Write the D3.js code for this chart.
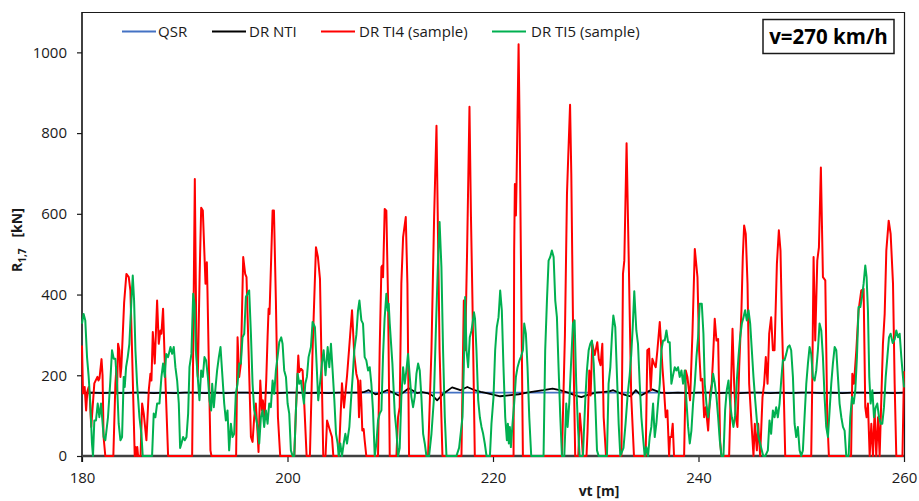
<!DOCTYPE html>
<html><head><meta charset="utf-8">
<script src="https://cdn.jsdelivr.net/npm/d3@7"></script>
<style>
html,body{margin:0;padding:0;background:#fff;}
svg{display:block;font-family:"Open Sans",sans-serif;}
</style></head>
<body><svg id="c" width="919" height="501"></svg>
<script>
// ---- data ----
const seriesNames = ["QSR", "DR NTI", "DR TI4 (sample)", "DR TI5 (sample)"];
const xTicks = [180, 200, 220, 240, 260];
const yTicks = [0, 200, 400, 600, 800, 1000];

const qsrX = [180, 260];
const qsrY = [157, 157];

const ntiX = [180,181,182,183,184,185,186,187,188,189,190,191,192,193,194,195,196,197,198,199,200,201,202,203,204,205,206,207,
  207.4,207.9,208.55,209.0,209.69,210.3,210.82,211.3,211.8,212.6,213.1,213.59,214.1,214.56,215.2,216.02,216.83,217.5,218.1,218.8,219.5,220.7,221.5,222.5,223.3,224.1,224.9,225.8,226.5,227.3,228.0,228.6,229.3,230.0,230.6,231.3,231.7,232.4,233.0,233.4,233.9,234.4,234.9,235.5,236.3,
  237,238,239,240,241,242,243,244,245,246,247,248,249,250,251,252,253,254,255,256,257,258,259,260];
const ntiY = [156,157,156,157,156,157,157,156,157,156,157,157,156,157,156,157,157,156,157,156,157,157,156,157,156,157,157,157,
  158,163,153,155,163,157,150,158,168,156,158,156,150,138,155,170,163,171,164,159,155,148,150,153,157,160,163,167,163,157,150,146,152,157,158,160,163,155,150,148,163,150,157,165,157,
  156,157,156,157,157,156,157,156,157,157,156,157,156,157,157,156,157,156,157,157,156,157,156,157];

const ti4X = [180.0,180.1,180.26,180.4,180.52,180.65,180.75,180.9,181.2,181.5,181.6,181.7,181.9,182.0,182.1,182.27,
  183.05,183.25,183.35,183.41,183.51,183.64,183.74,183.83,184.1,184.32,184.55,184.71,184.87,185.13,185.2,185.3,185.38,185.46,185.7,
  185.85,186.01,186.27,186.5,186.66,186.76,186.89,187.08,187.31,187.47,187.63,187.73,187.89,188.06,188.38,
  190.72,190.98,191.14,191.27,191.45,191.6,191.76,192.02,192.15,192.21,192.5,192.6,
  195.0,195.14,195.3,195.46,195.69,195.88,196.01,196.21,196.44,196.6,196.76,196.92,197.09,197.18,197.35,197.51,197.6,197.77,197.93,198.06,198.16,198.25,198.55,198.68,198.87,199.07,199.29,
  200.66,200.82,201.05,201.15,201.31,201.47,201.66,201.86,202.18,202.44,202.77,202.96,203.16,203.29,203.48,203.7,203.85,204.17,204.33,204.46,
  205.0,205.3,205.5,205.8,206.1,206.28,206.5,206.7,206.86,206.96,207.09,207.19,207.28,207.41,207.51,207.67,
  208.81,208.97,209.14,209.23,209.3,209.46,209.62,209.79,209.95,210.6,210.76,210.92,211.08,211.25,211.51,211.67,211.83,
  213.68,214.01,214.27,214.5,214.62,214.8,215.08,216.93,217.16,217.29,217.48,217.71,217.85,218.0,218.23,
  222.0,222.06,222.13,222.23,222.29,222.49,222.6,222.71,222.91,
  226.71,227.0,227.2,227.32,227.5,227.62,227.8,228.0,228.3,228.45,228.6,228.75,229.1,229.2,229.37,229.5,229.66,229.9,230.15,230.3,230.47,230.64,230.77,231.0,
  232.5,232.65,232.78,233.0,233.2,233.45,233.72,
  234.86,235.02,235.19,235.35,235.51,235.67,235.84,236.0,236.23,236.49,236.65,236.81,236.97,237.14,237.23,237.36,237.49,237.62,
  238.6,238.76,238.92,239.18,239.41,239.64,239.9,240.06,240.22,240.38,240.55,240.71,240.94,241.13,241.29,241.42,241.58,241.75,241.91,242.1,242.23,
  242.98,243.31,243.47,243.63,243.79,243.96,244.18,244.31,244.44,244.6,244.77,244.93,245.16,245.35,245.48,245.68,245.81,246.0,
  246.23,246.39,246.55,246.72,246.88,247.07,247.24,247.4,247.63,247.82,247.98,248.11,248.28,248.44,
  250.97,251.07,251.2,251.36,251.56,251.72,251.91,252.11,252.34,252.53,252.69,
  254.85,254.97,255.13,255.36,255.58,255.84,256.07,256.23,256.36,256.49,256.66,256.82,256.98,257.14,257.3,257.47,257.63,
  257.95,258.12,258.28,258.51,258.7,258.93,259.09,259.25,259.85,260.0];
const ti4Y = [274,155,171,113,160,171,150,72,180,196,187,192,240,200,47,0,
  0,179,220,154,278,262,196,220,380,451,443,410,262,0,22,0,22,0,0,
  130,105,39,163,204,187,307,229,385,278,311,303,365,229,0,
  0,686,262,196,450,615,608,427,480,410,14,0,
  0,294,196,229,493,451,443,262,47,35,96,130,55,10,187,113,138,96,187,294,365,352,608,608,385,96,0,
  0,113,249,208,216,212,113,0,0,262,517,493,439,262,0,0,88,60,47,0,
  0,180,120,200,300,361,250,204,187,96,187,130,63,67,39,0,
  0,262,468,472,443,612,608,385,0,0,96,121,427,542,592,427,0,
  0,262,592,818,600,262,0,0,385,262,509,865,600,385,0,
  0,509,674,596,674,1020,800,509,0,
  0,300,650,740,870,700,300,0,0,105,60,0,0,60,212,150,278,250,282,240,225,278,96,0,
  0,451,484,775,500,150,0,
  0,262,266,163,241,229,220,262,332,220,163,96,113,0,47,47,80,0,
  0,212,196,138,303,513,443,262,187,191,96,121,63,154,179,245,340,286,290,39,0,
  0,315,179,96,72,220,361,493,571,550,427,179,80,0,80,14,80,0,
  146,179,245,179,303,344,262,262,476,559,509,344,179,0,
  0,179,493,286,484,517,715,443,435,96,0,
  0,204,179,262,361,410,414,121,96,130,0,80,0,113,0,96,0,
  278,352,509,583,550,427,179,0,0,210];

const ti5X = [180.0,180.16,180.32,180.49,180.65,180.81,180.97,181.07,181.2,181.36,181.53,181.69,181.85,182.11,182.27,182.53,182.76,182.92,183.09,183.25,183.41,183.57,183.74,183.9,
  184.06,184.16,184.29,184.45,184.61,184.81,184.94,185.07,185.2,185.36,185.59,185.78,185.91,186.82,186.98,187.14,187.31,187.54,187.73,187.89,188.06,188.19,188.38,188.61,188.77,188.93,189.09,189.26,189.42,
  189.55,189.68,189.84,190.0,190.17,190.33,190.46,190.65,190.82,190.95,191.08,191.25,191.43,191.6,191.76,191.92,192.08,192.25,192.41,192.57,192.67,192.83,193.0,193.15,193.32,193.48,
  193.67,193.84,194.0,194.16,194.32,194.49,194.65,194.81,194.97,195.14,195.3,195.46,195.62,195.79,195.95,196.11,196.27,196.44,196.6,196.76,196.92,197.09,197.25,197.41,197.57,197.73,197.9,198.06,198.22,198.38,198.55,198.71,198.87,199.03,199.2,199.39,199.52,199.68,199.85,200.01,200.17,200.33,200.5,200.66,
  200.82,200.98,201.15,201.31,201.47,201.6,201.73,201.89,202.05,202.28,202.44,202.67,202.83,202.99,203.16,203.35,203.52,203.7,203.91,204.07,204.23,204.39,204.56,204.72,204.88,204.98,205.14,205.3,205.47,205.63,205.79,206.02,206.18,206.34,206.5,
  206.7,206.86,207.0,207.19,207.35,207.51,207.67,207.84,208.0,208.16,208.32,208.49,208.65,208.81,208.97,209.14,209.3,209.45,209.62,209.75,209.85,209.95,210.21,210.44,210.6,210.76,210.92,
  211.08,211.25,211.41,211.57,211.73,211.9,212.06,212.22,212.38,212.55,212.71,212.87,213.03,213.2,213.36,213.52,213.78,214.01,214.24,214.43,214.63,214.8,214.98,215.14,215.31,215.47,216.44,216.7,
  217.03,217.16,217.29,217.42,217.58,217.74,217.91,218.07,218.15,218.25,218.39,218.56,218.72,218.88,219.04,219.2,219.37,219.7,219.85,220.05,220.21,220.37,220.54,220.7,220.86,221.02,221.19,221.35,221.45,221.54,221.64,221.74,221.9,
  222.06,222.23,222.39,222.58,222.71,222.91,223.04,223.2,223.36,223.53,223.72,224.92,225.08,225.25,225.41,225.57,225.73,225.9,226.06,226.22,226.38,226.55,226.71,226.94,227.13,227.26,227.42,227.58,227.78,227.94,228.1,228.27,228.43,
  228.75,228.98,229.14,229.31,229.47,229.63,229.8,229.96,230.12,230.28,231.09,231.25,231.42,231.58,231.71,231.9,232.07,232.23,232.39,232.7,232.9,233.1,233.3,233.45,233.6,233.75,233.95,234.11,234.28,234.44,234.6,234.76,234.93,235.09,
  235.25,235.41,235.58,235.74,235.9,236.06,236.23,236.39,236.55,236.71,236.88,237.04,237.2,237.36,237.52,237.69,237.85,238.01,238.17,238.34,238.5,238.66,238.82,238.99,239.15,239.31,239.47,239.64,239.8,239.96,240.12,240.32,240.48,
  240.61,240.77,240.94,241.1,241.26,241.42,241.59,241.75,241.91,242.07,242.23,242.43,242.59,242.75,242.92,243.08,243.24,243.4,243.56,243.73,243.89,244.05,244.22,244.38,244.54,244.7,244.87,245.03,245.19,245.35,245.52,245.68,245.84,246.0,246.16,246.3,246.5,
  246.75,246.91,247.07,247.24,247.4,247.56,247.72,247.89,248.05,248.21,248.37,248.54,248.7,248.86,249.02,249.19,249.35,249.51,249.67,249.84,250.0,250.16,250.32,250.49,250.65,250.81,250.97,251.13,251.3,251.46,251.62,251.78,251.95,
  252.11,252.27,252.43,252.6,252.76,252.92,253.08,253.25,253.41,253.57,253.73,253.9,254.06,254.22,254.38,254.61,254.77,254.94,255.1,255.26,255.42,255.58,255.75,255.91,256.07,256.23,256.36,256.49,256.62,256.75,256.92,
  257.08,257.24,257.4,257.57,257.73,257.89,258.05,258.22,258.38,258.54,258.7,258.9,259.1,259.25,259.42,259.58,259.74,259.9,260.0];
const ti5Y = [328,352,336,245,196,130,31,0,88,88,130,96,130,47,39,96,187,262,241,241,179,80,39,47,
  196,171,220,245,278,385,447,385,262,179,96,55,0,0,105,96,130,130,196,229,196,253,245,270,253,270,220,187,130,
  20,31,47,39,47,105,220,253,402,377,262,200,138,212,196,245,237,196,138,113,179,121,171,212,245,270,
  196,130,88,113,14,80,47,55,154,179,229,229,294,303,394,402,410,303,179,113,96,72,31,96,113,72,113,80,130,121,187,154,212,245,282,294,278,212,196,130,105,14,0,0,
  113,204,179,187,154,130,179,196,245,270,332,319,229,138,179,229,262,200,270,220,278,212,138,55,31,0,31,0,31,55,31,72,138,196,262,
  300,360,385,336,328,245,237,212,220,179,113,0,31,88,105,113,250,340,402,360,377,328,229,105,63,0,20,
  146,220,179,212,253,196,146,121,146,204,229,212,146,55,31,0,0,55,138,303,468,580,468,262,96,0,0,20,
  96,220,394,262,220,294,311,340,356,340,262,138,96,72,55,31,0,0,80,146,262,319,344,410,360,220,96,39,80,31,72,22,80,
  130,196,220,237,245,262,328,303,220,96,0,0,262,385,484,493,509,493,385,344,220,96,0,0,130,72,130,220,328,336,179,72,0,
  0,138,212,262,278,286,229,130,14,0,0,179,220,300,348,319,196,80,0,20,80,150,200,250,320,408,311,278,179,96,47,0,22,0,
  47,72,130,47,80,130,179,262,286,286,311,282,282,179,200,220,212,220,196,212,179,212,138,72,31,63,130,179,245,294,377,377,303,
  179,130,96,130,163,204,179,146,96,39,0,0,113,163,187,130,96,72,100,187,245,294,328,344,361,336,361,328,262,196,138,88,47,31,14,0,0,
  14,88,55,113,96,121,96,130,187,237,237,253,270,274,262,196,80,47,72,14,0,14,96,179,229,270,253,196,187,212,262,328,311,
  245,146,72,47,113,179,229,270,262,196,130,96,72,63,0,0,96,146,130,163,245,369,369,394,427,472,443,361,196,130,163,
  96,120,130,96,80,80,121,196,245,294,303,280,290,311,294,303,245,196,170];

// ---- layout ----
const W = 919, H = 501;
const L = 82, R = 904, T = 12, B = 456;
const svg = d3.select("#c");
const x = d3.scaleLinear().domain([180, 260]).range([L, R]);
const y = d3.scaleLinear().domain([0, 1100]).range([B, T]);
const txt = "#1a1a1a";

// plot frame top/right
svg.append("line").attr("x1", L).attr("x2", R).attr("y1", T + 0.5).attr("y2", T + 0.5)
  .attr("stroke", "#1a1a1a").attr("stroke-width", 1.2);
svg.append("line").attr("x1", R + 0.5).attr("x2", R + 0.5).attr("y1", T).attr("y2", B)
  .attr("stroke", "#1a1a1a").attr("stroke-width", 1.2);

// y axis
const ya = svg.append("g").attr("transform", `translate(${L},0)`)
  .call(d3.axisLeft(y).tickValues(yTicks).tickSize(5).tickPadding(10).tickFormat(d3.format("d")));
ya.select(".domain").remove();
ya.selectAll(".tick line").attr("stroke", "#1a1a1a").attr("stroke-width", 1.2);
ya.selectAll(".tick text").attr("fill", txt).style("font-size", "15px").style("font-family", "'Open Sans',sans-serif");

// x axis
const xa = svg.append("g").attr("transform", `translate(0,${B})`)
  .call(d3.axisBottom(x).tickValues(xTicks).tickSize(6).tickPadding(10).tickFormat(d3.format("d")));
xa.select(".domain").remove();
xa.selectAll(".tick line").attr("stroke", "#1a1a1a").attr("stroke-width", 1.2);
xa.selectAll(".tick text").attr("fill", txt).style("font-size", "15px").style("font-family", "'Open Sans',sans-serif");

// axis lines
svg.append("line").attr("x1", L).attr("x2", L).attr("y1", T).attr("y2", B + 6)
  .attr("stroke", "#111").attr("stroke-width", 1.6);
svg.append("line").attr("x1", L).attr("x2", R).attr("y1", B).attr("y2", B)
  .attr("stroke", "#404040").attr("stroke-width", 2.6);

// series
const line = d3.line().x(d => x(d[0])).y(d => y(d[1]));
const zip = (a, b) => a.map((v, i) => [v, b[i]]);
const series = [
  {name: seriesNames[0], data: zip(qsrX, qsrY), color: "#4472C4", w: 1.6},
  {name: seriesNames[1], data: zip(ntiX, ntiY), color: "#000000", w: 1.8},
  {name: seriesNames[2], data: zip(ti4X, ti4Y), color: "#FF0000", w: 2},
  {name: seriesNames[3], data: zip(ti5X, ti5Y), color: "#00B050", w: 2}
];
series.forEach(s => {
  svg.append("path").datum(s.data).attr("d", line).attr("fill", "none")
    .attr("stroke", s.color).attr("stroke-width", s.w).attr("stroke-linejoin", "round");
});

// legend
const legPos = [[122, 158], [212, 249], [321, 359], [492, 531]];
const legY = 31.5;
series.forEach((s, i) => {
  const [lx, tx] = legPos[i];
  svg.append("line").attr("x1", lx).attr("x2", lx + 34).attr("y1", legY).attr("y2", legY)
    .attr("stroke", s.color).attr("stroke-width", 2);
  svg.append("text").attr("x", tx).attr("y", legY).attr("dy", "0.35em")
    .attr("fill", txt).style("font-size", "15px").text(s.name);
});

// speed box
svg.append("rect").attr("x", 763).attr("y", 19.5).attr("width", 131).attr("height", 34)
  .attr("fill", "#fff").attr("stroke", "#1a1a1a").attr("stroke-width", 1.5);
svg.append("text").attr("x", 828.5).attr("y", 44).attr("text-anchor", "middle")
  .attr("fill", "#000").style("font-size", "20.5px").style("font-weight", "bold").text("v=270 km/h");

// axis titles
svg.append("text").attr("x", 599).attr("y", 496).attr("text-anchor", "middle")
  .attr("fill", txt).style("font-size", "14px").style("font-weight", "bold").text("vt [m]");
const yt = svg.append("text").attr("transform", "translate(22,272) rotate(-90)")
  .attr("fill", txt).style("font-size", "14px").style("font-weight", "bold");
yt.append("tspan").text("R");
yt.append("tspan").attr("dy", 4).style("font-size", "10px").text("1,7");
yt.append("tspan").attr("dy", -4).attr("xml:space", "preserve").text("\u00a0\u00a0\u00a0[kN]");
</script>
</body></html>
